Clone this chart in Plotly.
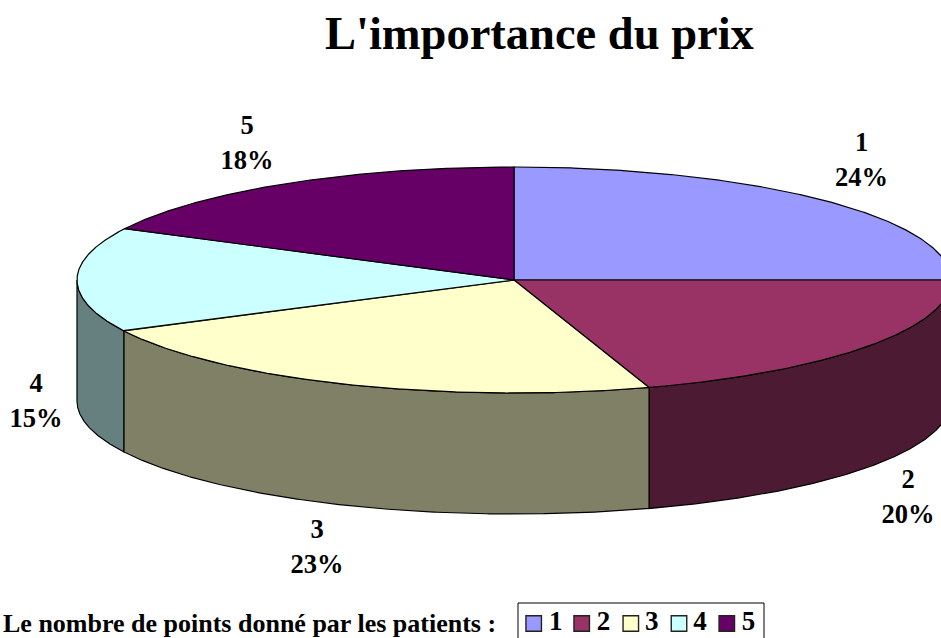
import numpy as np
import plotly.graph_objects as go

categories = ["1", "2", "3", "4", "5"]
slice_shares = [25.0, 20.0, 22.55, 14.95, 17.5]
percent_labels = ["24%", "20%", "23%", "15%", "18%"]
top_colors = ["#9999FF", "#993366", "#FFFFCC", "#CCFFFF", "#660066"]
side_colors = ["#4D4D80", "#4D1A33", "#808066", "#668080", "#330033"]
label_pos = [(861.5, 162), (908, 499), (317, 549), (36, 403), (247, 145)]

W, H = 941, 638
CX, CY, RX, RY, DEPTH = 514.0, 280.0, 437.0, 113.0, 121.0
FONT = "Liberation Serif, Times New Roman, serif"


def pt(theta, dy=0.0):
    return CX + RX * np.sin(theta), CY - RY * np.cos(theta) + dy


fracs = np.array(slice_shares) / sum(slice_shares)
edges = np.concatenate([[0.0], np.cumsum(fracs)]) * 2 * np.pi
fig = go.Figure()

# outer walls: only the front half of the rim is visible
order = [i for i in range(5) if edges[i + 1] > np.pi / 2 and edges[i] < 3 * np.pi / 2]
order.sort(key=lambda i: -abs(np.pi - (edges[i] + edges[i + 1]) / 2))
for i in order:
    a = max(edges[i], np.pi / 2)
    b = min(edges[i + 1], 3 * np.pi / 2)
    if b - a < 1e-6:
        continue
    t = np.linspace(a, b, 200)
    xt, yt = pt(t)
    xb, yb = pt(t[::-1], DEPTH)
    fig.add_trace(go.Scatter(
        x=np.concatenate([xt, xb, xt[:1]]), y=np.concatenate([yt, yb, yt[:1]]),
        mode="lines", fill="toself", fillcolor=side_colors[i],
        line=dict(color="black", width=1.2), hoverinfo="skip", showlegend=False))

# top faces
for i in range(5):
    t = np.linspace(edges[i], edges[i + 1], 300)
    xt, yt = pt(t)
    fig.add_trace(go.Scatter(
        x=np.concatenate([[CX], xt, [CX]]), y=np.concatenate([[CY], yt, [CY]]),
        mode="lines", fill="toself", fillcolor=top_colors[i],
        line=dict(color="black", width=1.2), name=categories[i], showlegend=False))

# data labels
fig.add_trace(go.Scatter(
    x=[p[0] for p in label_pos], y=[p[1] for p in label_pos], mode="text",
    text=[f"<b>{c}<br>{p}</b>" for c, p in zip(categories, percent_labels)],
    textfont=dict(family=FONT, size=26.5, color="black"),
    textposition="middle center", hoverinfo="skip", showlegend=False))

# legend key
swatch_x = [533.7, 581.7, 630.8, 679, 726.8]
digit_x = [555.7, 603.5, 651.7, 700, 748.5]
key_y = [623.5] * 5
fig.add_trace(go.Scatter(
    x=swatch_x, y=key_y, mode="markers",
    marker=dict(symbol="square", size=15.5, color=top_colors, line=dict(color="#222222", width=1.4)),
    hoverinfo="skip", showlegend=False))
fig.add_trace(go.Scatter(
    x=digit_x, y=key_y, mode="text",
    text=[f"<b>{c}</b>" for c in categories], textposition="middle center",
    textfont=dict(family=FONT, size=27, color="black"),
    hoverinfo="skip", showlegend=False))

fig.update_layout(
    width=W, height=H, margin=dict(l=0, r=0, t=0, b=0),
    paper_bgcolor="white", plot_bgcolor="white", showlegend=False,
    xaxis=dict(range=[0, W], visible=False, fixedrange=True),
    yaxis=dict(range=[H, 0], visible=False, fixedrange=True),
    shapes=[dict(type="rect", x0=518, x1=764, y0=603, y1=645,
                 line=dict(color="black", width=1), fillcolor="rgba(0,0,0,0)", layer="below")],
    annotations=[
        dict(text="<b>L'importance du prix</b>", x=539, y=33, xref="x", yref="y", showarrow=False,
             font=dict(family=FONT, size=46.5, color="black")),
        dict(text="<b>Le nombre de points donné par les patients :</b>", x=249.5, y=623.5, xref="x", yref="y",
             showarrow=False, font=dict(family=FONT, size=26, color="black")),
    ],
)
fig.write_html("out.html", config={"displayModeBar": False},
               post_script="document.body.style.margin='0';document.body.style.overflow='hidden';window.dispatchEvent(new Event('resize'));")
